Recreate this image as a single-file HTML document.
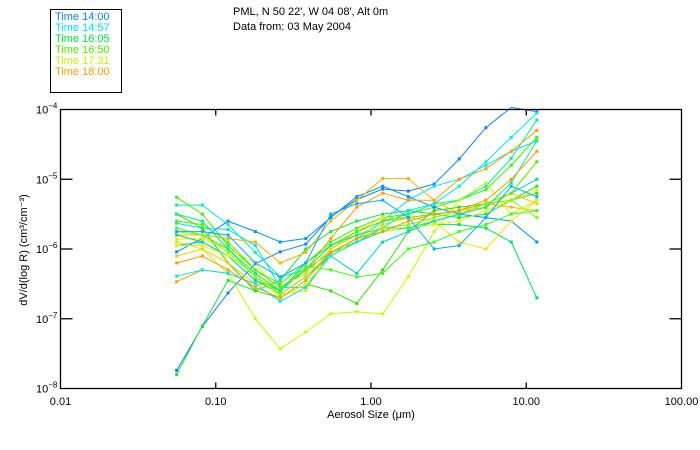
<!DOCTYPE html>
<html><head><meta charset="utf-8"><style>
html,body{margin:0;padding:0;background:#fff;}
svg{display:block;font-family:"Liberation Sans",sans-serif;}
</style></head><body>
<svg id="chart" width="700" height="450" viewBox="0 0 700 450">
<rect x="0" y="0" width="700" height="450" fill="#fff"/>
<g>
<rect x="50.5" y="9.5" width="71" height="83" fill="none" stroke="#000" stroke-width="1"/>
<g id="legendItems" font-size="11"></g>
</g>
<text x="233" y="15" font-size="11">PML, N 50 22', W 04 08', Alt 0m</text>
<text x="233" y="30" font-size="11">Data from: 03 May 2004</text>
<g id="series"></g>
<rect x="60.5" y="109.5" width="621" height="279" fill="none" stroke="#000" stroke-width="1.3"/>
<g id="axes" font-size="11"></g>
<text transform="translate(27,250) rotate(-90)" text-anchor="middle" font-size="11">dV/d(log R) (cm³/cm⁻³)</text>
<text x="371" y="418" text-anchor="middle" font-size="11">Aerosol Size (μm)</text>
</svg>
<script>
const sizes = [0.056,0.082,0.12,0.18,0.26,0.38,0.55,0.81,1.19,1.74,2.55,3.7,5.5,8.0,11.7];
const xTicks = [0.01,0.1,1,10,100];
const xTickLabels = ["0.01","0.10","1.00","10.00","100.00"];
const yTicks = [-4,-5,-6,-7,-8];
const legendLabels = ["Time 14:00","Time 14:57","Time 16:05","Time 16:50","Time 17:31","Time 18:00"];
const legendColors = ["#1080ff","#00e8e0","#00e040","#50f000","#c8f000","#ffa000"];
const seriesColors = ["#1080ff","#20e040","#40f000","#00f0a0","#00e0ff","#0090ff","#ffa000","#ffb000","#ffe000","#c0ff00","#30e000","#40ff20","#00e060","#00d0c0","#f0f000","#ffc800","#00e8e0","#50f000","#00f080","#80ff00","#00b0ff","#ff9800"];
// log10 of dV/d(logR)
const logValues = [
[-7.74,-7.11,-6.63,-6.21,-6.04,-5.93,-5.54,-5.29,-5.14,-5.17,-5.07,-4.71,-4.26,-3.97,-4.03],
[-7.8,-7.1,-6.45,-6.6,-6.45,-6.0,-5.75,-5.6,-5.5,-5.45,-5.5,-5.55,-5.5,-5.3,-5.1],
[-5.26,-5.5,-5.95,-6.3,-6.5,-6.2,-5.9,-5.7,-5.55,-5.5,-5.4,-5.3,-5.15,-4.8,-4.4],
[-5.37,-5.37,-5.65,-6.05,-6.4,-6.3,-5.95,-5.75,-5.6,-5.5,-5.35,-5.3,-5.1,-4.7,-4.15],
[-5.63,-5.7,-5.72,-5.95,-6.55,-6.55,-6.05,-5.85,-5.6,-5.3,-5.1,-5.0,-4.8,-4.6,-4.45],
[-6.04,-5.85,-5.6,-5.75,-5.9,-5.85,-5.55,-5.25,-5.1,-5.25,-5.4,-5.5,-5.55,-5.6,-5.9],
[-6.47,-6.3,-6.35,-6.5,-6.55,-6.3,-5.85,-5.4,-5.2,-5.3,-5.3,-5.0,-4.85,-4.6,-4.3],
[-5.8,-5.8,-5.85,-5.9,-6.2,-6.05,-5.6,-5.3,-4.99,-4.99,-5.3,-5.5,-5.35,-5.4,-5.45],
[-5.86,-5.85,-6.0,-6.2,-6.65,-6.6,-6.0,-5.75,-5.55,-5.55,-5.6,-5.9,-6.0,-5.6,-5.3],
[-5.9,-6.0,-6.35,-7.0,-7.43,-7.19,-6.93,-6.9,-6.93,-6.4,-5.75,-5.3,-5.05,-5.5,-5.3],
[-5.5,-5.7,-6.2,-6.6,-6.7,-6.5,-6.6,-6.78,-6.3,-5.75,-5.45,-5.4,-5.35,-5.3,-5.2],
[-5.7,-5.8,-6.0,-6.4,-6.6,-6.25,-6.3,-6.4,-6.35,-6.0,-5.9,-5.75,-5.65,-5.5,-5.45],
[-5.8,-5.9,-6.1,-6.45,-6.6,-6.3,-6.05,-5.9,-5.75,-5.7,-5.65,-5.65,-5.7,-5.9,-6.7],
[-5.95,-5.9,-6.1,-6.45,-6.65,-6.4,-6.1,-6.35,-5.9,-5.75,-5.6,-5.5,-5.4,-5.2,-5.0],
[-5.95,-5.95,-6.1,-6.35,-6.7,-6.5,-6.1,-5.85,-5.75,-5.7,-5.65,-5.6,-5.45,-5.3,-5.15],
[-6.1,-6.0,-6.2,-6.5,-6.55,-6.35,-6.0,-5.8,-5.65,-5.55,-5.5,-5.45,-5.4,-5.2,-5.35],
[-6.39,-6.3,-6.35,-6.5,-6.75,-6.55,-6.1,-5.9,-5.7,-5.45,-5.35,-5.1,-4.75,-4.4,-4.05],
[-5.6,-5.65,-5.9,-6.3,-6.55,-6.3,-5.95,-5.75,-5.6,-5.55,-5.5,-5.45,-5.35,-5.2,-4.75],
[-5.5,-5.6,-6.0,-6.35,-6.6,-6.2,-5.95,-5.8,-5.7,-5.7,-5.6,-5.5,-5.4,-5.05,-4.45],
[-5.75,-5.8,-6.05,-6.4,-6.65,-6.4,-6.05,-5.85,-5.7,-5.65,-5.55,-5.45,-5.35,-5.3,-5.55],
[-5.75,-5.75,-5.8,-6.2,-6.4,-6.2,-5.5,-5.35,-5.3,-5.55,-6.0,-5.95,-5.55,-5.1,-5.25],
[-6.2,-6.1,-6.3,-6.55,-6.7,-6.45,-6.05,-5.85,-5.75,-5.6,-5.5,-5.45,-5.3,-5.0,-4.6]
];
const NS="http://www.w3.org/2000/svg";
const L=60.5,R=681.5,T=109.5,B=388.5;
function xScale(v){return L+(Math.log10(v)+2)/4*(R-L);}
function yScale(e){return T+(-4-e)/4*(B-T);}
function mk(tag,attrs,parent){const el=document.createElementNS(NS,tag);for(const k in attrs)el.setAttribute(k,attrs[k]);parent.appendChild(el);return el;}
const sg=document.getElementById('series');
logValues.forEach((vals,si)=>{
  const c=seriesColors[si%seriesColors.length];
  const g=mk('g',{},sg);
  
  
  const pts=vals.map((v,i)=>xScale(sizes[i]).toFixed(1)+','+yScale(v).toFixed(1)).join(' ');
  const pl=mk('polyline',{points:pts,fill:'none',stroke:c,'stroke-width':1},g);
  
  
  vals.forEach((v,i)=>{
    const y=yScale(v); if(y<T-1||y>B+1) return;
    const r=mk('rect',{x:xScale(sizes[i])-1.5,y:y-1.5,width:3,height:3,fill:c},g);
    
    
  });
});
const ax=document.getElementById('axes');
xTicks.forEach((t,i)=>{
  const x=xScale(t);
  if(i>0&&i<xTicks.length-1){
    const a=mk('line',{x1:x,x2:x,y1:B,y2:B-6,stroke:'#000','stroke-width':1.3},ax);
    
    
    const b=mk('line',{x1:x,x2:x,y1:T,y2:T+6,stroke:'#000','stroke-width':1.3},ax);
    
    
  }
  const tx=mk('text',{x:x,y:405,'text-anchor':'middle'},ax);
  tx.textContent=xTickLabels[i];
  
  
});
yTicks.forEach((e,i)=>{
  const y=yScale(e);
  if(i>0&&i<yTicks.length-1){
    const a=mk('line',{x1:L,x2:L+12,y1:y,y2:y,stroke:'#000','stroke-width':1.3},ax);
    
    
    const b=mk('line',{x1:R,x2:R-12,y1:y,y2:y,stroke:'#000','stroke-width':1.3},ax);
    
    
  }
  const tx=mk('text',{x:36,y:y+4},ax);
  tx.textContent='10';
  const sp=mk('tspan',{dy:-5,'font-size':8},tx);
  sp.textContent=String(e).replace('-','−');
  
  
});
const lg=document.getElementById('legendItems');
legendLabels.forEach((s,i)=>{
  const t=mk('text',{x:55,y:20+i*11,fill:legendColors[i]},lg);
  t.textContent=s;
  
  
});
</script>
</body></html>
